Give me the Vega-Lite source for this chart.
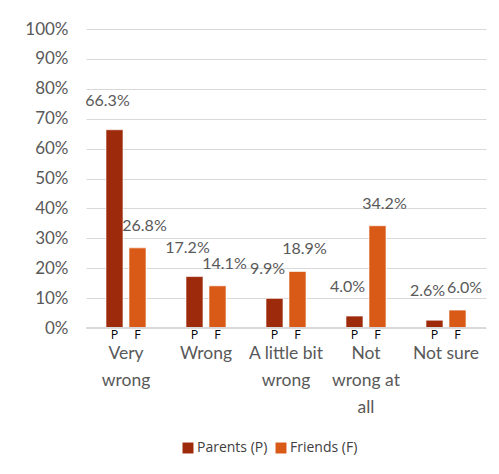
{
  "$schema": "https://vega.github.io/schema/vega-lite/v6.json",
  "autosize": {"type": "none"},
  "width": 400,
  "height": 299,
  "padding": {"left": 86, "top": 29, "right": 13, "bottom": 146},
  "background": "white",
  "config": {
    "font": "Lato",
    "view": {"stroke": null},
    "axis": {"labelFont": "Lato", "labelColor": "#595959"}
  },
  "data": {
    "values": [
      {"category": "Very wrong", "series": "Parents (P)", "code": "P", "value": 0.663},
      {"category": "Very wrong", "series": "Friends (F)", "code": "F", "value": 0.268},
      {"category": "Wrong", "series": "Parents (P)", "code": "P", "value": 0.172},
      {"category": "Wrong", "series": "Friends (F)", "code": "F", "value": 0.141},
      {"category": "A little bit wrong", "series": "Parents (P)", "code": "P", "value": 0.099},
      {"category": "A little bit wrong", "series": "Friends (F)", "code": "F", "value": 0.189},
      {"category": "Not wrong at all", "series": "Parents (P)", "code": "P", "value": 0.040},
      {"category": "Not wrong at all", "series": "Friends (F)", "code": "F", "value": 0.342},
      {"category": "Not sure", "series": "Parents (P)", "code": "P", "value": 0.026},
      {"category": "Not sure", "series": "Friends (F)", "code": "F", "value": 0.060}
    ]
  },
  "encoding": {
    "x": {
      "field": "category",
      "type": "nominal",
      "sort": null,
      "title": null,
      "scale": {"paddingInner": 0, "paddingOuter": 0},
      "axis": {
        "labelAngle": 0,
        "labelFontSize": 17.5,
        "labelPadding": 16,
        "labelLineHeight": 27,
        "labelBaseline": "top",
        "ticks": false,
        "domain": false,
        "labelExpr": "datum.label == 'Very wrong' ? ['Very', 'wrong'] : datum.label == 'A little bit wrong' ? ['A little bit', 'wrong'] : datum.label == 'Not wrong at all' ? ['Not', 'wrong at', 'all'] : datum.label"
      }
    },
    "xOffset": {
      "field": "series",
      "type": "nominal",
      "sort": ["Parents (P)", "Friends (F)"],
      "scale": {"paddingInner": 0.261, "paddingOuter": 0.87}
    },
    "y": {
      "field": "value",
      "type": "quantitative",
      "title": null,
      "scale": {"domain": [0, 1]},
      "axis": {
        "format": ".0%",
        "values": [0, 0.1, 0.2, 0.3, 0.4, 0.5, 0.6, 0.7, 0.8, 0.9, 1],
        "labelOverlap": false,
        "labelFontSize": 17,
        "labelPadding": 18,
        "ticks": false,
        "domain": false,
        "gridColor": "#d9d9d9",
        "gridWidth": 1
      }
    }
  },
  "layer": [
    {
      "mark": {"type": "bar", "stroke": "white", "strokeWidth": 0.6},
      "encoding": {
        "color": {
          "field": "series",
          "type": "nominal",
          "sort": ["Parents (P)", "Friends (F)"],
          "scale": {"domain": ["Parents (P)", "Friends (F)"], "range": ["#9e2a0c", "#d95a17"]},
          "legend": {
            "title": null,
            "orient": "none",
            "direction": "horizontal",
            "legendX": 95,
            "legendY": 412,
            "symbolType": "square",
            "symbolSize": 120,
            "symbolStrokeWidth": 0,
            "labelFontSize": 14,
            "labelColor": "#404040",
            "labelFont": "Open Sans",
            "columnPadding": 6,
            "labelOffset": 2
          }
        }
      }
    },
    {
      "mark": {"type": "rule", "color": "#d9d9d9", "strokeWidth": 1},
      "encoding": {"y": {"datum": 0}, "x": {"value": 0}, "x2": {"value": 400}, "xOffset": null}
    },
    {
      "transform": [{"filter": "datum.code == 'P'"}],
      "mark": {"type": "text", "baseline": "bottom", "dx": -7, "dy": -21, "fontSize": 16, "color": "#595959", "font": "Lato"},
      "encoding": {
        "text": {"field": "value", "type": "quantitative", "format": ".1%"}
      }
    },
    {
      "transform": [{"filter": "datum.code == 'F'"}],
      "mark": {"type": "text", "baseline": "bottom", "dx": 7, "dy": -14, "fontSize": 16, "color": "#595959", "font": "Lato"},
      "encoding": {
        "text": {"field": "value", "type": "quantitative", "format": ".1%"}
      }
    },
    {
      "mark": {"type": "text", "baseline": "top", "dy": 1, "fontSize": 12.5, "color": "#000000", "font": "Open Sans"},
      "encoding": {
        "y": {"datum": 0},
        "text": {"field": "code", "type": "nominal"}
      }
    }
  ]
}
